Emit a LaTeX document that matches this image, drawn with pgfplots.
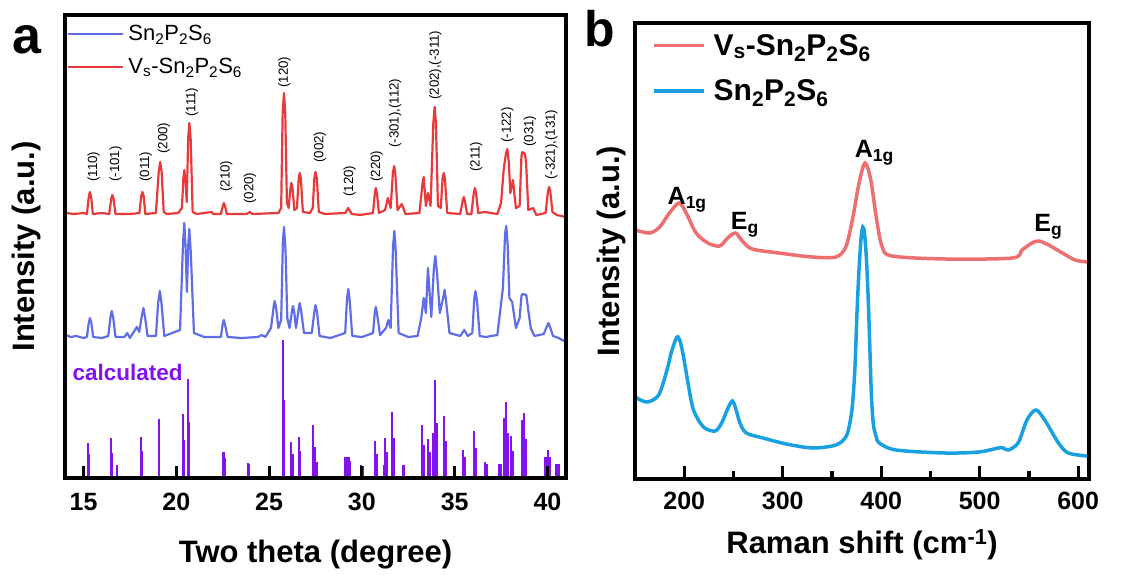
\documentclass[border=0pt]{standalone}
\usepackage{fontspec}
\setmainfont{Liberation Sans}
\usepackage{pgfplots}
\pgfplotsset{compat=1.18}

\definecolor{xrdblue}{HTML}{5F6EE6}
\definecolor{xrdred}{HTML}{E83A3A}
\definecolor{calcpurple}{HTML}{8214EB}
\definecolor{ramanred}{HTML}{EC7070}
\definecolor{ramanblue}{HTML}{19A0E1}
\definecolor{framecol}{RGB}{0,0,0}

\newcommand{\SPS}{Sn\textsubscript{2}P\textsubscript{2}S\textsubscript{6}}
% inward tick drawn as a small filled bar at an x position of the current axis
\newcommand{\tickbar}[2]{\fill[framecol] ([xshift=-1.6pt]axis cs:#1,0) rectangle ([xshift=1.6pt,yshift=#2]axis cs:#1,0);}

\pgfplotsset{
  panel/.style={
    scale only axis,
    anchor=south west,
    separate axis lines,
    axis line style={draw=framecol, line width=3pt, line cap=rect},
    tick align=inside,
    every tick/.style={line width=3pt, draw=framecol},
    major tick length=12pt,
    ytick=\empty,
    xtick pos=left,
    /pgf/number format/assume math mode=true,
    tick label style={font=\bfseries\fontsize{25}{25}\selectfont},
    label style={font=\bfseries\fontsize{31}{31}\selectfont},
    legend cell align=left,
  },
}

\begin{document}
\begin{tikzpicture}
\path (0pt,0pt) rectangle (1130pt,574pt);

% ---------------- (a) XRD patterns ----------------
\begin{axis}[panel,
  at={(65pt,96pt)}, width=501pt, height=463pt,
  xmin=14, xmax=41, ymin=0, ymax=463,
  xtick={15,20,25,30,35,40},
  xticklabel style={yshift=-12pt},
  xlabel={Two theta (degree)},
  ylabel={Intensity (a.u.)},
  x label style={at={(axis description cs:0.5,0)}, anchor=center, yshift=-77pt},
  y label style={at={([xshift=-39pt]axis description cs:0,0.5)}, anchor=center},
  legend style={at={(axis description cs:0,1)}, anchor=north west, xshift=2pt, yshift=-9pt,
    draw=none, fill=none, font=\fontsize{22}{24}\selectfont, row sep=14.4pt,
    inner sep=0pt, column sep=0pt, nodes={inner xsep=4pt, inner ysep=1pt}},
  legend image code/.code={\draw[#1] (0pt,0pt) -- (55pt,0pt);},
]
\addplot[xrdblue, line width=2.2pt, line join=round] coordinates {
(14.05,143) (14.3,141) (14.6,142) (15.0,140) (15.18,141) (15.28,155) (15.34,160) (15.42,155) (15.52,141)
(16.0,140) (16.33,142) (16.46,162) (16.52,167) (16.6,160) (16.72,141) (17.2,141) (17.36,145) (17.5,140)
(17.87,151) (18.0,146) (18.12,160) (18.23,170) (18.32,160) (18.45,142) (18.9,142) (19.02,175) (19.11,187) (19.2,175) (19.35,142)
(20.2,148) (20.36,235) (20.43,255) (20.5,230) (20.57,186) (20.64,232) (20.70,249) (20.78,225) (20.95,145) (21.5,141) (22.4,141)
(22.5,154) (22.56,158) (22.64,152) (22.76,141) (23.5,140) (24.4,141) (24.6,143) (24.8,141) (25.1,150)
(25.25,172) (25.3,177) (25.38,170) (25.5,150) (25.65,158) (25.74,235) (25.80,251) (25.88,230) (25.98,160) (26.1,150) (26.24,168) (26.29,172) (26.36,165)
(26.45,150) (26.6,170) (26.65,175) (26.72,168) (26.88,145) (27.3,145) (27.45,168) (27.5,173) (27.58,166) (27.72,142) (28.3,140)
(29.1,145) (29.2,180) (29.27,189) (29.34,178) (29.48,142) (30.0,141) (30.6,145) (30.7,166) (30.75,171) (30.82,164) (30.98,143)
(31.3,150) (31.43,158) (31.55,150) (31.68,232) (31.75,247) (31.82,228) (31.98,145) (32.5,141) (33.0,142)
(33.2,160) (33.33,180) (33.45,165) (33.56,210) (33.74,161) (33.88,210) (33.96,222) (34.05,205) (34.2,165)
(34.4,182) (34.46,188) (34.53,178) (34.72,145) (35.3,142) (35.52,148) (35.7,142) (35.95,145) (36.06,180) (36.12,187) (36.2,178)
(36.35,142) (36.66,141) (37.3,143) (37.6,190) (37.72,245) (37.78,252) (37.86,232) (37.95,180) (38.1,176)
(38.3,150) (38.5,160) (38.6,182) (38.65,184) (38.86,183) (38.95,170) (39.1,150) (39.3,142) (39.8,144)
(39.98,152) (40.05,155) (40.12,152) (40.3,142) (40.6,140) (41.0,136)
};
\addlegendentry{\SPS}
\addplot[xrdred, line width=2.2pt, line join=round] coordinates {
(14.05,265) (14.5,264) (15.0,265) (15.18,264) (15.28,281) (15.34,286) (15.41,281) (15.5,264) (16.0,265)
(16.38,264) (16.49,279) (16.55,283) (16.62,279) (16.72,264) (17.5,264) (18.01,265) (18.11,282) (18.17,286) (18.24,282) (18.33,264)
(18.9,265) (19.05,306) (19.13,316) (19.21,306) (19.32,266) (19.5,264) (20.1,265) (20.3,270) (20.38,300) (20.43,308)
(20.5,296) (20.56,276) (20.64,340) (20.70,355) (20.77,340) (20.88,266) (21.1,264) (21.9,266) (22.0,264) (22.4,264)
(22.51,272) (22.56,275) (22.62,272) (22.72,264) (23.8,264) (23.95,266) (24.1,264) (25.5,265) (25.65,270)
(25.73,365) (25.80,385) (25.87,365) (25.96,275) (26.05,270) (26.15,290) (26.2,295) (26.26,290) (26.36,268) (26.5,270) (26.6,300) (26.65,305)
(26.71,300) (26.82,266) (27.2,265) (27.35,270) (27.44,300) (27.5,306) (27.57,300) (27.68,266) (28.0,264) (29.1,265)
(29.27,270) (29.45,264) (29.9,263) (30.6,265) (30.7,285) (30.75,290) (30.81,285) (30.92,265) (31.25,268)
(31.40,280) (31.55,270) (31.67,305) (31.74,312) (31.8,305) (31.92,268) (32.15,274) (32.35,264) (33.1,265)
(33.27,295) (33.33,301) (33.45,272) (33.56,285) (33.7,272) (33.85,355) (33.92,371) (33.99,355) (34.1,272) (34.25,270)
(34.35,300) (34.41,305) (34.47,300) (34.6,265) (35.3,264) (35.43,277) (35.49,281) (35.55,277) (35.67,264) (35.9,264) (36.03,285) (36.09,290) (36.15,285)
(36.27,265) (36.64,266) (37.3,264) (37.5,275) (37.65,310) (37.77,325) (37.84,329) (37.92,315) (38.0,285)
(38.14,298) (38.3,270) (38.5,272) (38.6,322) (38.65,326) (38.79,324) (38.85,315) (38.97,268) (39.23,270)
(39.4,263) (39.9,265) (40.03,287) (40.09,291) (40.15,287) (40.27,266) (40.5,263) (41.0,261)
};
\addlegendentry{V\textsubscript{s}-\SPS}
% calculated reflections
\addplot[calcpurple, ycomb, line width=2.2pt, forget plot] coordinates {
(15.23,35) (15.30,24) (16.46,40) (16.53,25) (16.79,13) (18.08,41) (18.14,27)
(19.07,59) (20.34,64) (20.42,38) (20.61,99) (20.66,56) (22.54,26) (22.60,20)
(23.85,15) (23.90,14) (25.75,138) (25.81,78) (26.20,36) (26.26,24) (26.60,41)
(26.67,27) (27.37,53) (27.45,31) (27.55,16) (29.09,21) (29.20,21) (29.30,21)
(29.38,17) (29.95,13) (30.05,12) (30.71,37) (30.80,24) (31.18,13) (31.25,40)
(31.33,26) (31.61,66) (31.73,40) (32.21,13) (32.28,13) (33.24,53) (33.33,33)
(33.56,39) (33.65,26) (33.83,45) (33.96,98) (34.05,55) (34.44,62) (34.53,37)
(35.44,28) (35.53,21) (36.03,47) (36.12,30) (36.63,16) (36.75,14) (37.42,14)
(37.51,14) (37.69,60) (37.78,76) (37.89,45) (38.03,42) (38.14,27) (38.65,58)
(38.74,65) (38.83,39) (39.90,21) (40.05,28) (40.15,21) (40.44,14) (40.60,14)
(40.95,14)
};
\node[calcpurple, font=\bfseries\fontsize{22.5}{22.5}\selectfont] at (axis cs:17.38,106) {calculated};
% reflection indices
\begin{scope}[every node/.style={rotate=90, anchor=west, inner sep=0pt, font=\fontsize{13.3}{13.3}\selectfont}]
\node at (axis cs:15.54,296) {(110)};
\node at (axis cs:16.73,296) {(-101)};
\node at (axis cs:18.35,296) {(011)};
\node at (axis cs:19.33,324) {(200)};
\node at (axis cs:20.84,361) {(111)};
\node at (axis cs:22.68,286) {(210)};
\node at (axis cs:23.96,274) {(020)};
\node at (axis cs:25.82,390) {(120)};
\node at (axis cs:27.74,315) {(002)};
\node at (axis cs:29.34,281) {(120)};
\node at (axis cs:30.80,296) {(220)};
\node at (axis cs:31.80,330) {(-301),(112)};
\node at (axis cs:33.97,378) {(202),(-311)};
\node at (axis cs:36.16,306) {(211)};
\node at (axis cs:37.84,335) {(-122)};
\node at (axis cs:39.05,331) {(031)};
\node at (axis cs:40.22,298) {(-321),(131)};
\end{scope}
\tickbar{15}{12pt}\tickbar{20}{12pt}\tickbar{25}{12pt}
\tickbar{30}{12pt}\tickbar{35}{12pt}\tickbar{40}{12pt}
\end{axis}

% ---------------- (b) Raman spectra ----------------
\begin{axis}[panel,
  at={(635pt,95pt)}, width=454pt, height=456pt,
  xmin=150, xmax=611, ymin=0, ymax=456,
  xtick={200,300,400,500,600},
  minor xtick={250,350,450,550},
  minor tick length=7pt,
  every minor tick/.style={line width=3pt, draw=framecol},
  xticklabel style={yshift=-10pt},
  xlabel={Raman shift (cm\textsuperscript{-1})},
  ylabel={Intensity (a.u.)},
  x label style={at={(axis description cs:0.5,0)}, anchor=center, yshift=-66pt},
  y label style={at={([xshift=-24pt]axis description cs:0,0.5)}, anchor=center},
  legend style={at={(axis description cs:0,1)}, anchor=north west, xshift=17pt, yshift=-10pt,
    draw=none, fill=none, font=\bfseries\fontsize{30}{32}\selectfont, row sep=21pt,
    inner sep=0pt, column sep=0pt, nodes={inner xsep=8pt, inner ysep=1pt}},
  legend image code/.code={\draw[#1] (0pt,0pt) -- (50pt,0pt);},
]
\addplot[ramanred, line width=3.5pt, smooth, tension=0.5] coordinates {
(150,249) (165,246) (175,252) (185,266) (194.7,276) (202,266) (212,246) (224,236)
(236,233) (244,241) (252,246) (259,238) (269,230) (296,226) (330,222) (354,222)
(364,232) (370.7,259) (377.5,296) (383.6,316) (389.4,299) (395.4,259) (401,232)
(411,223) (465,220) (533,221) (543,229) (553,236) (560,238) (570,234) (584,226)
(597,219) (609,217)
};
\addlegendentry{V\textsubscript{s}-\SPS}
\addplot[ramanblue, line width=3.5pt, smooth, tension=0.5] coordinates {
(150,82) (162,77) (174,84) (182.5,109) (187,127) (192.6,142) (196,137) (199.3,122)
(204,95) (209.4,69) (219.5,52) (231.3,48) (238,56) (244,70) (249,78) (253,68)
(256.6,56) (263,46) (280,41) (303.7,35) (330.6,31) (354,34) (364,42) (368,55)
(371,76) (373.5,115) (375.4,166) (377.5,210) (379.5,240) (381.3,252) (383,246)
(385,220) (387,175) (388.5,130) (390,85) (392,55) (395,42) (398,36) (415,29)
(465,26) (499,27) (519,31) (524,31) (529,29) (539,36) (548,59) (557,69) (566,59)
(580,36) (590,26) (609,23)
};
\addlegendentry{\SPS}
\begin{scope}[every node/.style={font=\bfseries\fontsize{25}{25}\selectfont, inner sep=0pt}]
\node at (axis cs:203,279) {A\textsubscript{1g}};
\node at (axis cs:261.6,254) {E\textsubscript{g}};
\node at (axis cs:393,326) {A\textsubscript{1g}};
\node at (axis cs:569.7,252) {E\textsubscript{g}};
\end{scope}
\tickbar{200}{13pt}\tickbar{300}{13pt}\tickbar{400}{13pt}\tickbar{500}{13pt}\tickbar{600}{13pt}
\tickbar{250}{8pt}\tickbar{350}{8pt}\tickbar{450}{8pt}\tickbar{550}{8pt}
\end{axis}

% panel frames as filled bars
\begin{scope}[framecol]
\fill (63.4pt,94.4pt) rectangle (567.6pt,97.6pt);
\fill (63.4pt,557.4pt) rectangle (567.6pt,560.6pt);
\fill (63.4pt,94.4pt) rectangle (66.6pt,560.6pt);
\fill (564.4pt,94.4pt) rectangle (567.6pt,560.6pt);
\fill (633.4pt,93.4pt) rectangle (1090.6pt,96.6pt);
\fill (633.4pt,549.4pt) rectangle (1090.6pt,552.6pt);
\fill (633.4pt,93.4pt) rectangle (636.6pt,552.6pt);
\fill (1087.4pt,93.4pt) rectangle (1090.6pt,552.6pt);
\end{scope}

% panel letters
\node[font=\bfseries\fontsize{52}{52}\selectfont, inner sep=0pt] at (27pt,534pt) {a};
\node[font=\bfseries\fontsize{50}{50}\selectfont, inner sep=0pt] at (600pt,545pt) {b};
\end{tikzpicture}
\end{document}
